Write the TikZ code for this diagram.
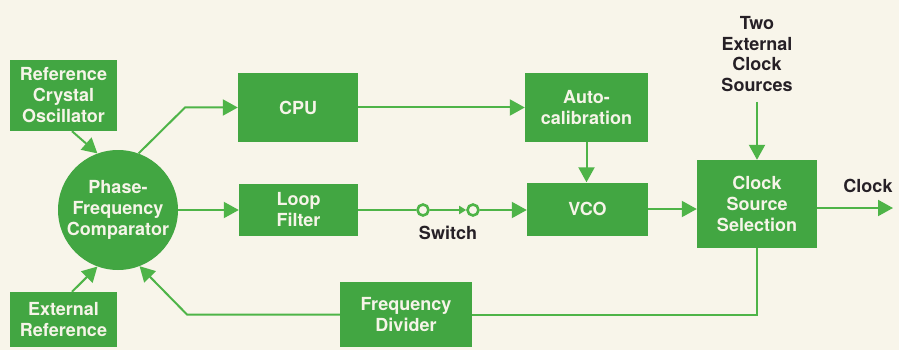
\documentclass[tikz,border=0pt]{standalone}
\usepackage{fontspec}
\setmainfont{TeX Gyre Heros}
\usetikzlibrary{arrows.meta}
\definecolor{boxgreen}{RGB}{66,166,66}
\definecolor{linegreen}{RGB}{78,180,72}
\definecolor{paper}{RGB}{248,245,234}
\definecolor{ink}{RGB}{38,32,38}
\definecolor{boxtext}{RGB}{246,244,232}
\tikzset{
  blk/.style={rectangle, fill=boxgreen, text=boxtext, align=center, inner sep=0pt,
    font=\fontsize{18}{21}\selectfont\bfseries},
  lbl/.style={text=ink, align=center, inner sep=0pt, font=\fontsize{18}{20.5}\selectfont\bfseries},
  wire/.style={draw=linegreen, line width=2pt},
  arr/.style={wire, -{Triangle[length=15pt,width=16pt]}},
  sarr/.style={wire, -{Triangle[length=7pt,width=8pt]}},
  sw/.style={circle, draw=linegreen, line width=2.6pt, fill=paper, minimum size=11pt, inner sep=0pt}
}
\begin{document}
\begin{tikzpicture}[x=1pt,y=-1pt]
\fill[paper] (0,0) rectangle (899,350);
\useasboundingbox (0,0) rectangle (899,350);

\node[blk, minimum width=107pt, minimum height=71pt] (rco) at (63.5,95.5) {Reference\\Crystal\\Oscillator};
\node[blk, minimum width=107pt, minimum height=55pt] (ext) at (63.5,319.5) {External\\Reference};
\node[blk, circle, minimum size=120pt] (pfc) at (118,210) {Phase-\\Frequency\\Comparator};
\node[blk, minimum width=120pt, minimum height=69pt] (cpu) at (298,107.5) {CPU};
\node[blk, minimum width=119pt, minimum height=52pt] (loop) at (298.5,210) {Loop\\Filter};
\node[blk, minimum width=123pt, minimum height=69pt] (auto) at (586.5,107.5) {Auto-\\calibration};
\node[blk, minimum width=121pt, minimum height=53pt] (vco) at (587.5,209) {VCO};
\node[blk, minimum width=120pt, minimum height=88pt] (css) at (757,204) {Clock\\Source\\Selection};
\node[blk, minimum width=132pt, minimum height=65pt] (fdiv) at (406,314.5) {Frequency\\Divider};

\node[lbl] (two) at (757,54) {Two\\External\\Clock\\Sources};
\node[lbl] (clklbl) at (868,186) {Clock};
\node[lbl] (swlbl) at (448,233) {Switch};

\node[sw] (s1) at (423,210) {};
\node[sw] (s2) at (473,210) {};
\coordinate (clk) at (893,208);
\coordinate (twoend) at (757,102);
\coordinate (bend1) at (185,107.5);
\coordinate (bend2) at (187,314.5);

\draw[arr] ([xshift=8.5pt]rco.south) -- (pfc.110);
\draw[arr] ([xshift=8.5pt]ext.north) -- (pfc.250);
\draw[arr] (pfc.70) -- (bend1) -- (cpu.west);
\draw[arr] (pfc.east) -- (loop.west);
\draw[wire] (loop.east) -- (s1.west);
\draw[sarr] (s1.east) -- (s2.west);
\draw[arr] (s2.east) -- (s2.east -| vco.west);
\draw[arr] (cpu.east) -- (auto.west);
\draw[arr] (auto.south) -- (auto.south |- vco.north);
\draw[arr] (vco.east) -- (vco.east -| css.west);
\draw[arr] (twoend) -- (css.north);
\draw[arr] (css.east |- clk) -- (clk);
\draw[wire] (css.south) -- (css.south |- fdiv.east) -- (fdiv.east);
\draw[arr] (fdiv.west) -- (bend2) -- (pfc.291);
\end{tikzpicture}
\end{document}
